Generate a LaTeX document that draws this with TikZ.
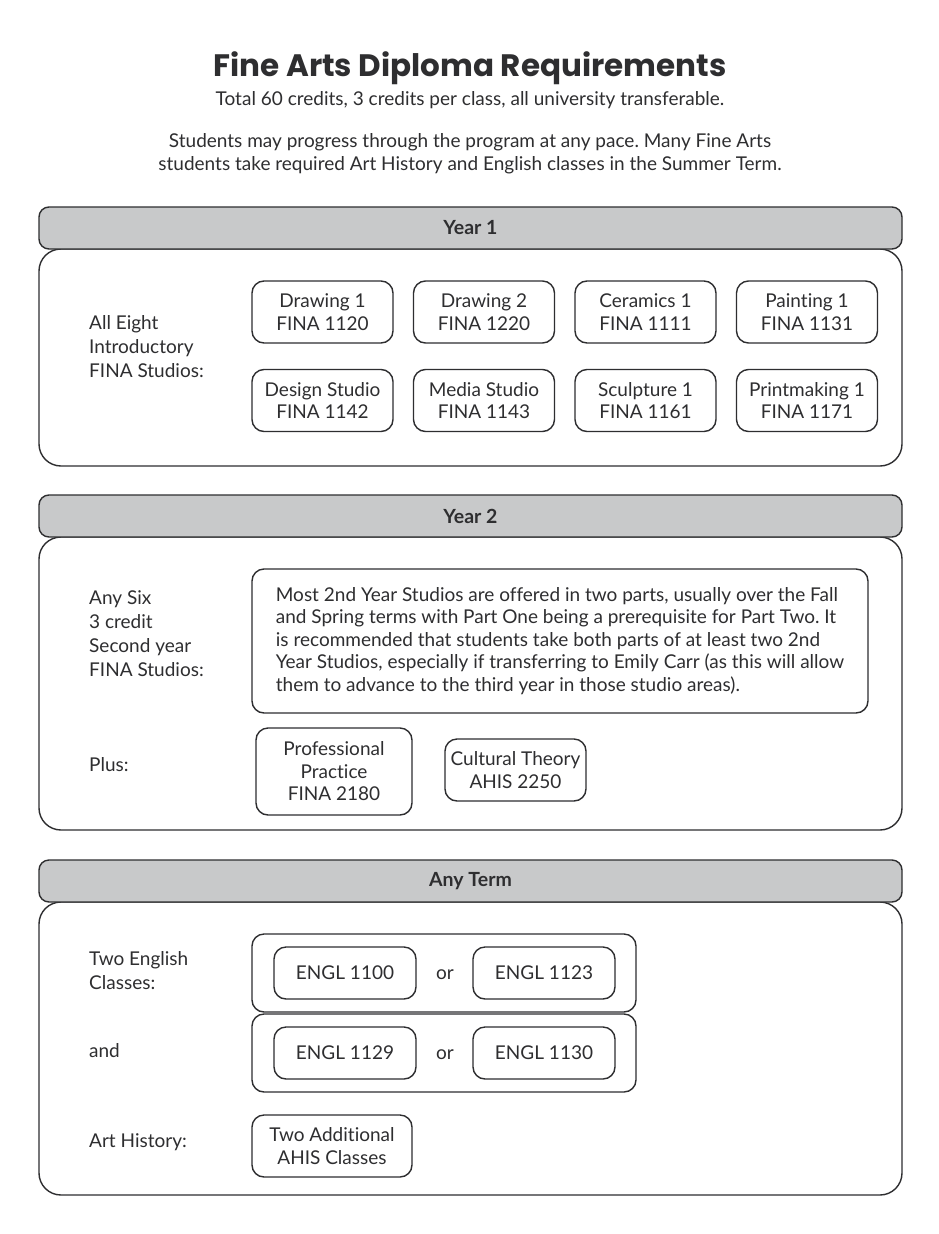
\documentclass[tikz,border=0pt]{standalone}
\usepackage{fontspec}
\setmainfont{Lato}[Ligatures=NoCommon]
\newfontfamily\titlefont{Poppins}
\definecolor{ink}{HTML}{2E2E30}
\definecolor{band}{HTML}{C8C9CA}
\frenchspacing
\begin{document}
\begin{tikzpicture}[x=1pt,y=-1pt,
 every node/.style={text=ink, font=\fontsize{19}{22.5}\selectfont, inner sep=0pt},
 hdr/.style={draw=ink, line width=1.4pt, fill=band, rounded corners=10pt, minimum width=863pt, minimum height=42pt, font=\fontsize{19.5}{22}\selectfont\bfseries},
 panel/.style={draw=ink, line width=1.4pt, rounded corners=22pt, minimum width=863pt},
 course/.style={draw=ink, line width=1.4pt, rounded corners=12pt, align=center},
 lbl/.style={anchor=west, align=left, font=\fontsize{19}{24}\selectfont}
]
\useasboundingbox[fill=white] (0,0) rectangle (938,1234);

% title
\node (title) at (470,68) {\titlefont\bfseries\fontsize{31}{36}\selectfont Fine Arts Diploma Requirements};
\node (sub) at (470,100) {Total 60 credits, 3 credits per class, all university transferable.};
\node[align=center] (intro) at (470,153.5) {Students may progress through the program at any pace. Many Fine Arts\\students take required Art History and English classes in the Summer Term.};

% Year 1
\node[panel, minimum height=217pt] (p1) at (470.5,357.5) {};
\node[hdr] (h1) at (470.5,228) {Year 1};
\node[lbl] (l1) at (89,347) {All Eight\\Introductory\\FINA Studios:};
\node[course, minimum width=141pt, minimum height=62pt] (c11) at (322.5,312) {Drawing 1\\FINA 1120};
\node[course, minimum width=141pt, minimum height=62pt] (c12) at (484,312) {Drawing 2\\FINA 1220};
\node[course, minimum width=141pt, minimum height=62pt] (c13) at (645.5,312) {Ceramics 1\\FINA 1111};
\node[course, minimum width=141pt, minimum height=62pt] (c14) at (807,312) {Painting 1\\FINA 1131};
\node[course, minimum width=141pt, minimum height=62pt] (c21) at (322.5,400.5) {Design Studio\\FINA 1142};
\node[course, minimum width=141pt, minimum height=62pt] (c22) at (484,400.5) {Media Studio\\FINA 1143};
\node[course, minimum width=141pt, minimum height=62pt] (c23) at (645.5,400.5) {Sculpture 1\\FINA 1161};
\node[course, minimum width=141pt, minimum height=62pt] (c24) at (807,400.5) {Printmaking 1\\FINA 1171};

% Year 2
\node[panel, minimum height=293pt] (p2) at (470.5,683.5) {};
\node[hdr] (h2) at (470.5,516) {Year 2};
\node[lbl] (l2) at (89,634) {Any Six\\3 credit\\Second year\\FINA Studios:};
\node[course, align=left, minimum width=616pt, minimum height=144pt] (note) at (560,641) {Most 2nd Year Studios are offered in two parts, usually over the Fall\\and Spring terms with Part One being a prerequisite for Part Two. It\\is recommended that students take both parts of at least two 2nd\\Year Studios, especially if transferring to Emily Carr (as this will allow\\them to advance to the third year in those studio areas).};
\node[lbl] (plus) at (89,765) {Plus:};
\node[course, minimum width=156pt, minimum height=87pt] (pp) at (334,771.5) {Professional\\Practice\\FINA 2180};
\node[course, minimum width=141pt, minimum height=62pt] (ct) at (515.5,770) {Cultural Theory\\AHIS 2250};

% Any Term
\node[panel, minimum height=293pt] (p3) at (470.5,1048.5) {};
\node[hdr] (h3) at (470.5,881) {Any Term};
\node[lbl] (l3) at (89,971) {Two English\\Classes:};
\node[lbl] (l4) at (89,1051) {and};
\node[lbl] (l5) at (89,1142) {Art History:};
\node[course, minimum width=384pt, minimum height=78pt] (g1) at (444,973) {};
\node[course, minimum width=384pt, minimum height=78pt] (g2) at (444,1053) {};
\node[course, minimum width=142pt, minimum height=52pt] (e1) at (345,973) {ENGL 1100};
\node (or1) at (445,975) {or};
\node[course, minimum width=142pt, minimum height=52pt] (e2) at (544,973) {ENGL 1123};
\node[course, minimum width=142pt, minimum height=52pt] (e3) at (345,1053) {ENGL 1129};
\node (or2) at (445,1055) {or};
\node[course, minimum width=142pt, minimum height=52pt] (e4) at (544,1053) {ENGL 1130};
\node[course, minimum width=160pt, minimum height=62pt] (ah) at (332,1146) {Two Additional\\AHIS Classes};
\end{tikzpicture}
\end{document}
